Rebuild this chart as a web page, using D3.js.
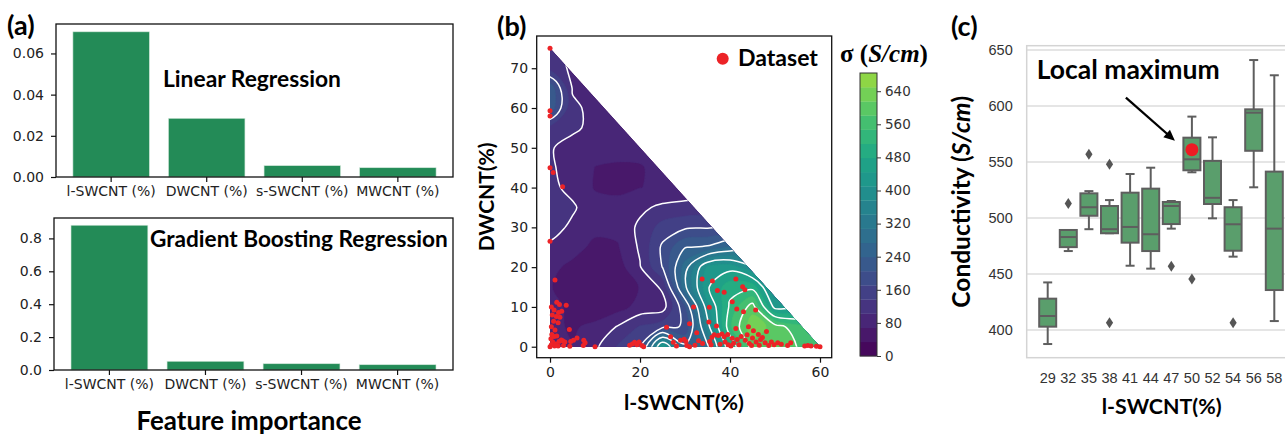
<!DOCTYPE html>
<html>
<head>
<meta charset="utf-8">
<script src="https://cdn.jsdelivr.net/npm/d3@7"></script>
<style>
  body { margin: 0; background: #fff; }
  svg { display: block; }
</style>
</head>
<body>
<div id="chart"></div>
<script>
// ---- data: (a) feature importance
var features = ["l-SWCNT (%)", "DWCNT (%)", "s-SWCNT (%)", "MWCNT (%)"];
var linearImportance = [0.0705, 0.0285, 0.0055, 0.0045];
var gbrImportance = [0.88, 0.053, 0.038, 0.032];
var linearTicks = [0, 0.02, 0.04, 0.06];
var gbrTicks = [0, 0.2, 0.4, 0.6, 0.8];

// ---- data: (b) conductivity map, sigma (S/cm) on a 5% grid (rows = DWCNT, cols = l-SWCNT)
var gridX = [0, 5, 10, 15, 20, 25, 30, 35, 40, 45, 50, 55, 60];
var gridY = [0, 5, 10, 15, 20, 25, 30, 35, 40, 45, 50, 55, 60, 65, 70, 75];
var sigmaGrid = [
  [ 70,  70,  95, 140, 165, 440, 250, 300, 480, 600, 620, 580, 560],
  [ 75,  65,  75, 105, 140, 160, 175, 360, 540, 640, 600, 560, 540],
  [ 80,  60,  50,  55,  80,  85, 200, 400, 520, 600, 430, 440, 450],
  [ 70,  55,  45,  45,  70, 110, 300, 440, 500, 500, 380, 400, 420],
  [ 75,  62,  50,  52, 100, 172, 290, 420, 430, 380, 350, 360, 370],
  [ 95,  78,  62,  65, 108, 178, 238, 245, 280, 300, 300, 300, 300],
  [118,  95,  75,  78, 110, 150, 165, 168, 175, 180, 180, 180, 180],
  [118, 108,  80,  75,  95, 110, 115, 120, 125, 125, 125, 125, 125],
  [112,  92,  66,  64,  68,  72,  78,  85,  90,  90,  90,  90,  90],
  [110,  82,  68,  67,  68,  70,  72,  75,  80,  80,  80,  80,  80],
  [106,  88,  75,  72,  70,  70,  70,  70,  70,  70,  70,  70,  70],
  [125, 110,  92,  85,  80,  78,  75,  75,  75,  75,  75,  75,  75],
  [230, 108,  95,  88,  85,  82,  80,  80,  80,  80,  80,  80,  80],
  [230, 100,  90,  88,  85,  82,  80,  80,  80,  80,  80,  80,  80],
  [125,  95,  88,  86,  85,  82,  80,  80,  80,  80,  80,  80,  80],
  [115,  92,  88,  86,  85,  82,  80,  80,  80,  80,  80,  80,  80]
];
var datasetPoints = [
  [0,75],[0,59.3],[0,58],[0,45],[0.7,43.8],[2.8,40.2],[0,26.5],[1.1,16.8],
  [0.3,10],[1.5,11.2],[2.1,10.6],[3.6,10.4],[0.9,9.2],[1.9,8.6],[2.6,8.9],[0.5,8],[1.4,7.6],[2.2,7.4],
  [0.8,6.4],[1.8,6],[0.3,5],[1.1,4.2],[0.4,3.1],[0.2,2],[1.5,2.7],[2.5,1.7],[0.6,1.2],[1.3,0.7],[2,1.3],
  [3.3,1.2],[4.3,4.3],[5.2,1.6],[6,2.2],[4.4,0.1],[3,0.3],[0,0],[1,0.2],[0.3,0.5],[7.5,1.6],[7.8,1],
  [7.4,0.3],[10,0],[2.8,1.5],[0.9,2.6],[4.6,1.3],[1.8,0.2],
  [17.7,0.4],[18.3,0.7],[18.8,1.1],[19.3,0.5],[19.8,1.2],[20.4,0.3],[20.8,0],
  [25.9,4.9],[26.8,2.5],[27.4,1.1],[28.1,0.2],[29,1.6],[29.8,1.9],[30.4,0.3],[30.2,1.3],[31,0],[32.2,0.4],
  [31.9,10],[31,5.8],[32.6,3.5],[33,1.5],[33.8,17],[36.1,16.5],[37.2,14.1],[38.7,13.7],[35.4,9.9],
  [35.3,6.2],[37,5.2],[36.5,3],[37.4,2.8],[36,2.4],[35.5,1.3],[35.8,0.5],[38.7,2.5],[39.6,0.5],[40.2,0.2],
  [38.9,1.2],[38.2,3.2],[39.5,3.1],[40.5,2.1],[41.3,17],[42.8,15.1],[43.3,14.3],[40.5,11.3],[41.5,9.5],
  [43,8.8],[45.7,9.2],[41.3,4.6],[44.1,5],[45.2,4],[48.1,3.8],[42.5,2.6],[43.4,1.6],[44.3,0.8],[45,2.2],
  [45.8,1.2],[46.5,0.4],[47.2,2.3],[47.8,1],[48.6,0.3],[42,0.5],[41.6,1.8],[43.8,3],[46.3,3.1],[49.2,1.2],
  [49.8,0.5],[50.6,1],[51.4,0.6],[52.8,0.3],[53.5,1],[56.6,0.2],[57.3,0.3],[58,0.2],[59.2,0.1],[60,0],
  [44.8,0.3],[46.8,1.8],[40.8,0.9],[37.8,0.6],[33.9,0.8]
];
var mapXTicks = [0, 20, 40, 60];
var mapYTicks = [0, 10, 20, 30, 40, 50, 60, 70];
var sigmaTicks = [0, 80, 160, 240, 320, 400, 480, 560, 640];
var sigmaMax = 684;

// ---- data: (c) conductivity by l-SWCNT content  [min, q1, median, q3, max]
var swcntLevels = ["29", "32", "35", "38", "41", "44", "47", "50", "52", "54", "56", "58"];
var boxStats = [
  [387.5, 403, 412.5, 428, 442.5],
  [470.5, 474, 483, 489.3, 489.3],
  [490, 502, 509.6, 522, 524],
  [486.4, 486.4, 490, 510.7, 516],
  [457.4, 478, 492, 522.6, 539.3],
  [454.8, 470.5, 485.5, 526.2, 544.9],
  [490.5, 494.6, 510.7, 514.3, 515.2],
  [540.8, 542.6, 552.4, 571.7, 590.5],
  [499.7, 512.5, 518, 551, 572],
  [465.5, 470.8, 494.4, 509.6, 516],
  [527.4, 560, 594, 597, 641],
  [408, 435.7, 490.5, 541.4, 627.4]
];
var boxOutliers = [[], [513], [557], [548, 406.5], [], [], [457], [445.5], [], [406.5], [], []];
var condTicks = [400, 450, 500, 550, 600, 650];
var localMaxLevel = "50", localMaxValue = 561;

// ---- setup
var W = 1285, H = 436;
var svg = d3.select("#chart").append("svg").attr("width", W).attr("height", H);
svg.append("rect").attr("width", W).attr("height", H).attr("fill", "#fff");

var tickFont = "DejaVu Sans, sans-serif";
var boldFont = "Lato, 'Open Sans', sans-serif";
var barColor = "#238b57";

function fitText(sel, width) {
  var w = sel.node().getComputedTextLength();
  var fs = parseFloat(sel.attr("font-size"));
  sel.attr("font-size", (fs * width / w).toFixed(2));
}

function boldLabel(x, y, txt, size, width, anchor) {
  var t = svg.append("text").attr("x", x).attr("y", y).text(txt)
    .attr("font-family", boldFont).attr("font-weight", 700)
    .attr("font-size", size).attr("fill", "#000")
    .attr("text-anchor", anchor || "start");
  if (width) fitText(t, width);
  return t;
}

// ---- (a) bar charts
function barPanel(values, ticks, yMax, box, fmt, title, titleX, titleY, titleW) {
  var x = d3.scaleBand().domain(features).range([box.left, box.right])
    .paddingInner(0.2).paddingOuter(0.177);
  var y = d3.scaleLinear().domain([0, yMax]).range([box.bottom, box.top]);
  var g = svg.append("g");
  g.selectAll("rect.bar").data(values).join("rect").attr("class", "bar")
    .attr("x", function(d, i) { return x(features[i]); })
    .attr("width", x.bandwidth())
    .attr("y", function(d) { return y(d); })
    .attr("height", function(d) { return y(0) - y(d); })
    .attr("fill", barColor)
    .attr("stroke", "#cfe6d8").attr("stroke-width", 0.6);
  g.append("rect").attr("x", box.left).attr("y", box.top)
    .attr("width", box.right - box.left).attr("height", box.bottom - box.top)
    .attr("fill", "none").attr("stroke", "#111").attr("stroke-width", 1.3);
  var ax = g.append("g").attr("transform", "translate(0," + box.bottom + ")")
    .call(d3.axisBottom(x).tickSize(5).tickPadding(4).tickSizeOuter(0));
  var ay = g.append("g").attr("transform", "translate(" + box.left + ",0)")
    .call(d3.axisLeft(y).tickValues(ticks).tickFormat(d3.format(fmt)).tickSize(5).tickPadding(7).tickSizeOuter(0));
  [ax, ay].forEach(function(a) {
    a.select(".domain").remove();
    a.selectAll("line").attr("stroke", "#111").attr("stroke-width", 1.2);
    a.selectAll("text").attr("font-family", tickFont).attr("font-size", 14).attr("fill", "#222");
  });
  boldLabel(titleX, titleY, title, 22, titleW);
}

barPanel(linearImportance, linearTicks, 0.0743, {left: 56, right: 453, top: 24, bottom: 177},
  ".2f", "Linear Regression", 163, 87, 178);
barPanel(gbrImportance, gbrTicks, 0.924, {left: 54, right: 453, top: 218, bottom: 370},
  ".1f", "Gradient Boosting Regression", 150, 247, 298);
boldLabel(249, 430, "Feature importance", 24, 225, "middle");
boldLabel(7, 35, "(a)", 27);

// ---- (b) ternary-slice contour map
var mb = {left: 536.7, right: 831.7, top: 36, bottom: 357.7};
var xB = d3.scaleLinear().domain([-2.96, 62.6]).range([mb.left, mb.right]);
var yB = d3.scaleLinear().domain([-2.76, 78.1]).range([mb.bottom, mb.top]);

var bandStep = sigmaMax / 20;
var fillLevels = d3.range(0, 20).map(function(i) { return i * bandStep; });
var lineLevels = fillLevels.filter(function(d, i) { return i >= 3 && i % 2 === 1; });
// the figure's colormap stops in the green part of viridis
var colorB = function(v) { return d3.interpolateViridis(0.85 * Math.max(0, Math.min(1, v / sigmaMax))); };

// pad the grid by one clamped cell on every side so contour edges fall outside the triangle
var nx = gridX.length, ny = gridY.length, step = 5;
var padded = [];
for (var j = -1; j <= ny; j++) {
  for (var i = -1; i <= nx; i++) {
    var jj = Math.max(0, Math.min(ny - 1, j)), ii = Math.max(0, Math.min(nx - 1, i));
    padded.push(sigmaGrid[jj][ii]);
  }
}
function toPx(p) {
  return [xB(gridX[0] + (p[0] - 1.5) * step), yB(gridY[0] + (p[1] - 1.5) * step)];
}
var ringLine = d3.line().curve(d3.curveCatmullRomClosed.alpha(0.5));
function multiPath(mp) {
  return mp.coordinates.map(function(poly) {
    return poly.map(function(ring) { return ringLine(ring.slice(0, -1).map(toPx)); }).join("");
  }).join("");
}

var defs = svg.append("defs");
defs.append("clipPath").attr("id", "tri").append("path")
  .attr("d", "M" + [xB(0), yB(75)] + "L" + [xB(0), yB(0)] + "L" + [xB(60), yB(0)] + "Z");

var mapG = svg.append("g").attr("clip-path", "url(#tri)");
var fills = d3.contours().size([nx + 2, ny + 2]).thresholds(fillLevels)(padded);
mapG.selectAll("path.band").data(fills).join("path").attr("class", "band")
  .attr("d", function(d) { return multiPath(d); })
  .attr("fill", function(d) { return colorB(d.value + bandStep / 2); })
  .attr("fill-rule", "evenodd")
  .attr("stroke", function(d) { return colorB(d.value + bandStep / 2); })
  .attr("stroke-width", 0.5);
var lines = d3.contours().size([nx + 2, ny + 2]).thresholds(lineLevels)(padded);
mapG.selectAll("path.iso").data(lines).join("path").attr("class", "iso")
  .attr("d", function(d) { return multiPath(d); })
  .attr("fill", "none").attr("stroke", "#fff").attr("stroke-width", 1.5);

svg.append("g").selectAll("circle").data(datasetPoints).join("circle")
  .attr("cx", function(d) { return xB(d[0]); })
  .attr("cy", function(d) { return yB(d[1]); })
  .attr("r", 2.5).attr("fill", "#ec2327");

svg.append("rect").attr("x", mb.left).attr("y", mb.top)
  .attr("width", mb.right - mb.left).attr("height", mb.bottom - mb.top)
  .attr("fill", "none").attr("stroke", "#111").attr("stroke-width", 1.3);
var bx = svg.append("g").attr("transform", "translate(0," + mb.bottom + ")")
  .call(d3.axisBottom(xB).tickValues(mapXTicks).tickSize(5).tickPadding(4));
var by = svg.append("g").attr("transform", "translate(" + mb.left + ",0)")
  .call(d3.axisLeft(yB).tickValues(mapYTicks).tickSize(5).tickPadding(3.5));
[bx, by].forEach(function(a) {
  a.select(".domain").remove();
  a.selectAll("line").attr("stroke", "#111").attr("stroke-width", 1.2);
  a.selectAll("text").attr("font-family", tickFont).attr("font-size", 14).attr("fill", "#222");
});

svg.append("circle").attr("cx", 722.7).attr("cy", 58.8).attr("r", 6).attr("fill", "#ec2327");
boldLabel(738, 65.5, "Dataset", 20, 80);
boldLabel(684, 410, "l-SWCNT(%)", 22, 120, "middle");
boldLabel(0, 0, "DWCNT(%)", 20, 109, "middle")
  .attr("transform", "translate(494," + ((mb.top + mb.bottom) / 2) + ") rotate(-90)");
boldLabel(497, 36, "(b)", 27);

// colorbar
var cb = {left: 860, right: 877, top: 73, bottom: 356};
var yCb = d3.scaleLinear().domain([0, sigmaMax]).range([cb.bottom, cb.top]);
svg.append("g").selectAll("rect").data(fillLevels).join("rect")
  .attr("x", cb.left).attr("width", cb.right - cb.left)
  .attr("y", function(d) { return yCb(d + bandStep); })
  .attr("height", function(d) { return yCb(d) - yCb(d + bandStep) + 0.3; })
  .attr("fill", function(d) { return colorB(d + bandStep / 2); });
svg.append("rect").attr("x", cb.left).attr("y", cb.top)
  .attr("width", cb.right - cb.left).attr("height", cb.bottom - cb.top)
  .attr("fill", "none").attr("stroke", "#333").attr("stroke-width", 1);
var cbAxis = svg.append("g").attr("transform", "translate(" + cb.right + ",0)")
  .call(d3.axisRight(yCb).tickValues(sigmaTicks).tickSize(4).tickPadding(4));
cbAxis.select(".domain").remove();
cbAxis.selectAll("line").attr("stroke", "#333");
cbAxis.selectAll("text").attr("font-family", tickFont).attr("font-size", 13.5).attr("fill", "#333");

var sigT = svg.append("text").attr("x", 840).attr("y", 62)
  .attr("font-family", "'Liberation Serif', 'DejaVu Serif', serif")
  .attr("font-weight", 700).attr("font-size", 25).attr("fill", "#000");
sigT.append("tspan").text("σ (");
sigT.append("tspan").attr("font-style", "italic").text("S/cm");
sigT.append("tspan").text(")");

// ---- (c) box plot
var mc = {left: 1026.7, right: 1300, top: 45.7, bottom: 357.7};
var xC = d3.scaleBand().domain(swcntLevels).range([1037.4, 1284.6]);
var yC = d3.scaleLinear().domain([375.3, 653.8]).range([mc.bottom, mc.top]);
var cx = function(k) { return xC(k) + xC.bandwidth() / 2; };
var boxW = 17, capW = 9;
var boxStroke = "#5e5e5e", boxFill = "#5a9e6c";

var gC = svg.append("g");
gC.selectAll("line.grid").data(condTicks).join("line").attr("class", "grid")
  .attr("x1", mc.left).attr("x2", mc.right)
  .attr("y1", function(d) { return yC(d); }).attr("y2", function(d) { return yC(d); })
  .attr("stroke", "#dcdcdc").attr("stroke-width", 1.5);
gC.append("rect").attr("x", mc.left).attr("y", mc.top)
  .attr("width", mc.right - mc.left).attr("height", mc.bottom - mc.top)
  .attr("fill", "none").attr("stroke", "#d4d4d4").attr("stroke-width", 1.5);

var boxes = gC.selectAll("g.box").data(boxStats).join("g").attr("class", "box")
  .attr("transform", function(d, i) { return "translate(" + cx(swcntLevels[i]) + ",0)"; });
boxes.append("line").attr("y1", function(d) { return yC(d[4]); }).attr("y2", function(d) { return yC(d[3]); })
  .attr("stroke", boxStroke).attr("stroke-width", 2);
boxes.append("line").attr("y1", function(d) { return yC(d[1]); }).attr("y2", function(d) { return yC(d[0]); })
  .attr("stroke", boxStroke).attr("stroke-width", 2);
boxes.append("line").attr("x1", -capW / 2).attr("x2", capW / 2)
  .attr("y1", function(d) { return yC(d[4]); }).attr("y2", function(d) { return yC(d[4]); })
  .attr("stroke", boxStroke).attr("stroke-width", 2);
boxes.append("line").attr("x1", -capW / 2).attr("x2", capW / 2)
  .attr("y1", function(d) { return yC(d[0]); }).attr("y2", function(d) { return yC(d[0]); })
  .attr("stroke", boxStroke).attr("stroke-width", 2);
boxes.append("rect").attr("x", -boxW / 2).attr("width", boxW)
  .attr("y", function(d) { return yC(d[3]); })
  .attr("height", function(d) { return Math.max(1, yC(d[1]) - yC(d[3])); })
  .attr("fill", boxFill).attr("stroke", boxStroke).attr("stroke-width", 2);
boxes.append("line").attr("x1", -boxW / 2).attr("x2", boxW / 2)
  .attr("y1", function(d) { return yC(d[2]); }).attr("y2", function(d) { return yC(d[2]); })
  .attr("stroke", boxStroke).attr("stroke-width", 2);

var outPts = [];
boxOutliers.forEach(function(arr, i) { arr.forEach(function(v) { outPts.push([swcntLevels[i], v]); }); });
gC.selectAll("path.out").data(outPts).join("path").attr("class", "out")
  .attr("d", "M0,-5.5L3.6,0L0,5.5L-3.6,0Z")
  .attr("transform", function(d) { return "translate(" + cx(d[0]) + "," + yC(d[1]) + ")"; })
  .attr("fill", "#555");

gC.append("circle").attr("cx", cx(localMaxLevel)).attr("cy", yC(localMaxValue))
  .attr("r", 6.5).attr("fill", "#ec1c24");

var cy = gC.append("g").attr("transform", "translate(" + mc.left + ",0)")
  .call(d3.axisLeft(yC).tickValues(condTicks).tickSize(0).tickPadding(14));
var cxA = gC.append("g").attr("transform", "translate(0," + mc.bottom + ")")
  .call(d3.axisBottom(xC).tickSize(0).tickPadding(15));
[cy, cxA].forEach(function(a) {
  a.select(".domain").remove();
  a.selectAll("text").attr("font-family", "'Liberation Sans', Arial, sans-serif")
    .attr("font-size", 14.5).attr("fill", "#333");
});

// arrow pointing to the local maximum
var tipX = cx(localMaxLevel) - 17, tipY = yC(569);
var tailX = cx(localMaxLevel) - 66, tailY = yC(607.5);
var ang = Math.atan2(tipY - tailY, tipX - tailX);
var back = 11, half = 5;
var bx0 = tipX - back * Math.cos(ang), by0 = tipY - back * Math.sin(ang);
gC.append("line").attr("x1", tailX).attr("y1", tailY).attr("x2", bx0 + 2 * Math.cos(ang)).attr("y2", by0 + 2 * Math.sin(ang))
  .attr("stroke", "#000").attr("stroke-width", 2.3);
gC.append("path").attr("d",
  "M" + tipX + "," + tipY +
  "L" + (bx0 - half * Math.sin(ang)) + "," + (by0 + half * Math.cos(ang)) +
  "L" + (bx0 + half * Math.sin(ang)) + "," + (by0 - half * Math.cos(ang)) + "Z")
  .attr("fill", "#000");

boldLabel(1036.7, 79.3, "Local maximum", 24, 183);
boldLabel(1161.7, 414.3, "l-SWCNT(%)", 22, 120, "middle");
var condT = svg.append("text").attr("text-anchor", "middle")
  .attr("transform", "translate(970," + ((mc.top + mc.bottom) / 2) + ") rotate(-90)")
  .attr("font-family", boldFont).attr("font-weight", 700).attr("font-size", 21).attr("fill", "#000");
condT.append("tspan").text("Conductivity (");
condT.append("tspan").attr("font-style", "italic").text("S/cm");
condT.append("tspan").text(")");
fitText(condT, 212);
boldLabel(951, 36, "(c)", 27);
</script>
</body>
</html>
